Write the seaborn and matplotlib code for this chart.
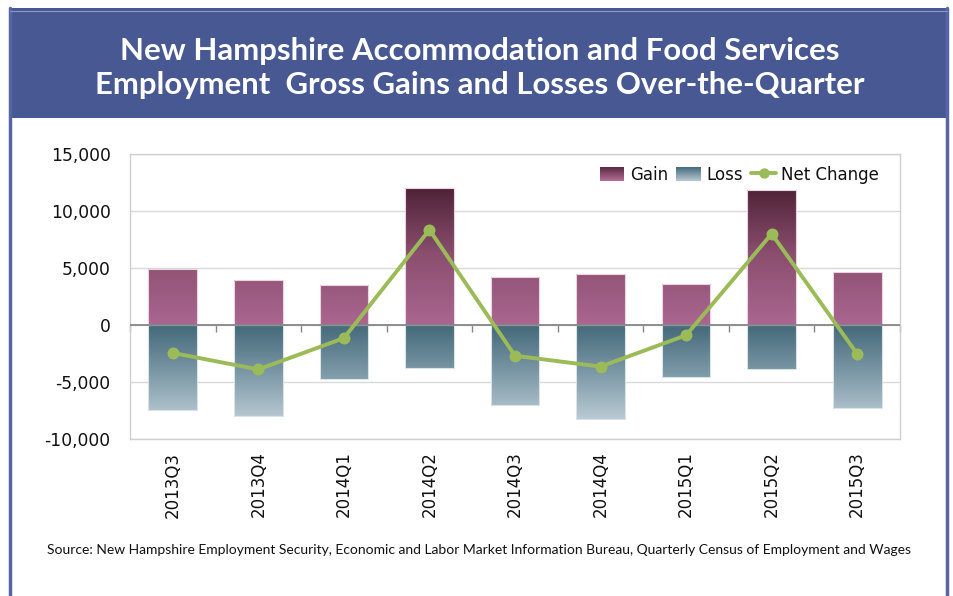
import numpy as np
import pandas as pd
import matplotlib
matplotlib.use("Agg")
import matplotlib.pyplot as plt
import seaborn as sns
from matplotlib.colors import LinearSegmentedColormap, Normalize
from matplotlib.patches import Rectangle, Patch
from matplotlib.lines import Line2D
from matplotlib.ticker import FuncFormatter
from matplotlib.legend_handler import HandlerBase

quarters = ["2013Q3", "2013Q4", "2014Q1", "2014Q2", "2014Q3", "2014Q4", "2015Q1", "2015Q2", "2015Q3"]
gain = [4950, 3950, 3550, 12050, 4200, 4500, 3600, 11800, 4650]
loss = [-7450, -7950, -4750, -3750, -7000, -8250, -4550, -3850, -7250]
net = [-2450, -3900, -1150, 8350, -2700, -3650, -900, 8000, -2550]

title_lines = ["New Hampshire Accommodation and Food Services",
               "Employment  Gross Gains and Losses Over-the-Quarter"]
source = ("Source: New Hampshire Employment Security, Economic and Labor Market Information Bureau, "
          "Quarterly Census of Employment and Wages")

df = pd.DataFrame({"Quarter": quarters, "Gain": gain, "Loss": loss, "Net": net})

sns.set_theme(style="white")
plt.rcParams["font.family"] = ["DejaVu Sans"]

W, H = 954, 596
fig = plt.figure(figsize=(W / 100, H / 100), dpi=100)
fig.patch.set_facecolor("white")

banner = "#485892"
fig.patches.append(Rectangle((10 / W, 1 - 118 / H), 937 / W, 110 / H, transform=fig.transFigure,
                             facecolor=banner, edgecolor="none", zorder=0))
for xx in (10, 947):
    fig.add_artist(Line2D([xx / W, xx / W], [0, 1 - 8 / H], transform=fig.transFigure,
                          color="#5865a5", lw=2.5))
fig.add_artist(Line2D([10 / W, 947 / W], [1 - 11 / H, 1 - 11 / H], transform=fig.transFigure,
                      color="#8c97c4", lw=0.8))
fig.text(480 / W, 1 - 51 / H, title_lines[0], ha="center", va="center", color="white",
         fontsize=22.4, fontweight="bold", family=["Lato", "DejaVu Sans"])
fig.text(480 / W, 1 - 85 / H, title_lines[1], ha="center", va="center", color="white",
         fontsize=22.4, fontweight="bold", family=["Lato", "DejaVu Sans"])
fig.text(47 / W, 1 - 550 / H, source, ha="left", va="center", color="#111111",
         fontsize=10.0, family=["Lato", "DejaVu Sans"])

ax = fig.add_axes([130 / W, 1 - 439 / H, 770 / W, 285 / H])

bw = 0.57
sns.barplot(data=df, x="Quarter", y="Gain", order=quarters, color="#a0608a", width=bw,
            errorbar=None, ax=ax, zorder=2)
sns.barplot(data=df, x="Quarter", y="Loss", order=quarters, color="#6a8a99", width=bw,
            errorbar=None, ax=ax, zorder=2)
sns.pointplot(data=df, x="Quarter", y="Net", order=quarters, color="#9bbb59",
              errorbar=None, ax=ax, linewidth=2.8, markersize=6.5, zorder=5)

ymin, ymax = -10000, 15000
gain_cmap = LinearSegmentedColormap.from_list("g", ["#aa6690", "#8a4e6e", "#4a1f33"])
loss_cmap = LinearSegmentedColormap.from_list("l", ["#bccdd6", "#7d99a7", "#44697a"])
gnorm = Normalize(0, 12500)
lnorm = Normalize(-8500, 0)

for p in list(ax.patches):
    x0, y0, w, h = p.get_x(), p.get_y(), p.get_width(), p.get_height()
    lo, hi = min(y0, y0 + h), max(y0, y0 + h)
    vals = np.linspace(lo, hi, 256).reshape(-1, 1)
    if hi > 0:
        cmap, norm = gain_cmap, gnorm
        edge = "#ead3de"
    else:
        cmap, norm = loss_cmap, lnorm
        edge = "#d8e2e7"
    im = ax.imshow(vals, extent=[x0, x0 + w, lo, hi], origin="lower", cmap=cmap, norm=norm,
                   aspect="auto", zorder=2, interpolation="nearest")
    im.set_clip_path(p)
    p.set_facecolor("none")
    p.set_edgecolor(edge)
    p.set_linewidth(0.8)
    p.set_zorder(3)

ax.set_xlim(-0.5, len(quarters) - 0.5)
ax.set_ylim(ymin, ymax)
ax.set_yticks(np.arange(ymin, ymax + 1, 5000))
ax.yaxis.set_major_formatter(FuncFormatter(lambda v, _: f"{int(v):,}"))
ax.grid(axis="y", color="#d9d9d9", lw=1.0, zorder=0)
ax.set_axisbelow(True)
for s in ax.spines.values():
    s.set_color("#d0d0d0")
    s.set_linewidth(1.0)
ax.set_xlabel("")
ax.set_ylabel("")
ax.tick_params(axis="y", labelsize=12.3, colors="#111111", length=0, pad=14)
ax.tick_params(axis="x", labelsize=12, colors="#111111", length=0, pad=9, labelrotation=90)

ax.axhline(0, color="#868686", lw=1.3, zorder=4)
frac0 = (0 - ymin) / (ymax - ymin)
sec = ax.secondary_xaxis(frac0)
sec.set_xticks(np.arange(-0.5, len(quarters), 1.0))
sec.tick_params(axis="x", direction="out", length=5, color="#868686", labelbottom=False, width=1)
sec.spines["bottom"].set_visible(False)
sec.set_xticklabels([])


class GradientHandler(HandlerBase):
    def __init__(self, cmap):
        super().__init__()
        self.cmap = cmap

    def create_artists(self, legend, orig_handle, xdescent, ydescent, width, height, fontsize, trans):
        n = 20
        arts = []
        for i in range(n):
            c = self.cmap(i / (n - 1))
            r = Rectangle((-xdescent, -ydescent + height * i / n), width, height / n + 0.3,
                          facecolor=c, edgecolor="none", transform=trans)
            arts.append(r)
        return arts


gh = Patch(label="Gain")
lh = Patch(label="Loss")
nh = Line2D([], [], color="#9bbb59", lw=2.8, marker="o", markersize=6.5, label="Net Change")
g_leg = LinearSegmentedColormap.from_list("gl", ["#b06a94", "#5e2c44"])
l_leg = LinearSegmentedColormap.from_list("ll", ["#b2c5cf", "#4a6e7f"])
leg = ax.legend(handles=[gh, lh, nh], loc="upper right", ncol=3, frameon=False, fontsize=12,
                handlelength=1.45, handleheight=0.85, handletextpad=0.35, columnspacing=0.5,
                bbox_to_anchor=(1.0 - 9 / 770, 1.0), borderaxespad=0.3,
                handler_map={gh: GradientHandler(g_leg), lh: GradientHandler(l_leg)})
for t in leg.get_texts():
    t.set_color("#111111")

fig.savefig("out.png", dpi=100)
